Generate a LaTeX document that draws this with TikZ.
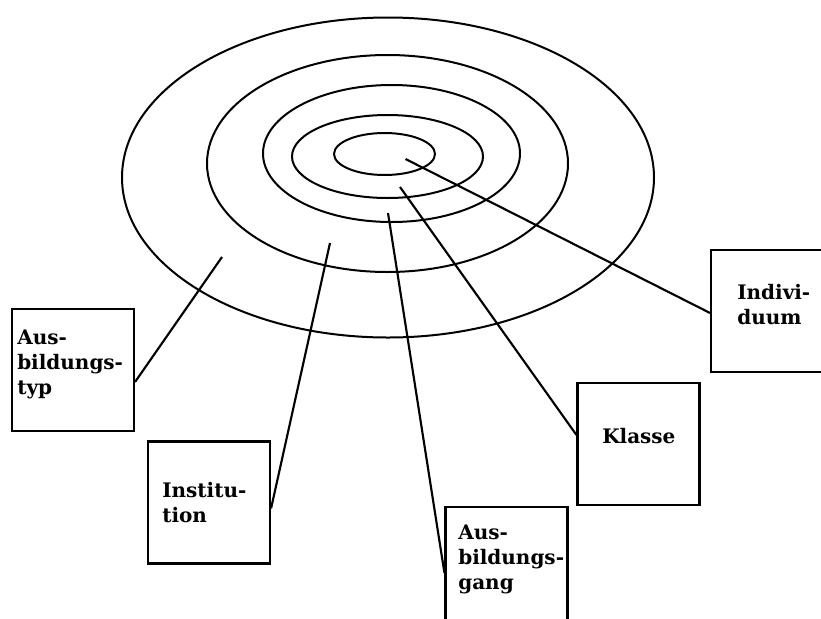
\documentclass[tikz,border=0pt]{standalone}
\usepackage{fontspec}
\setmainfont{DejaVu Serif}
\usetikzlibrary{calc}
\tikzset{
    kasten/.style={draw, line width=1.6pt, minimum width=91.5pt, minimum height=91.5pt, inner sep=0pt},
    beschrift/.style={anchor=north west, inner sep=0pt, align=left, font=\bfseries\fontsize{15}{18.5}\selectfont},
    ring/.style={line width=1.5pt},
    strahl/.style={line width=1.6pt}
}
\begin{document}
\begin{tikzpicture}[x=0.75pt, y=-0.75pt]
    \useasboundingbox (0,0) rectangle (821,618);
    \clip (0,0) rectangle (821,618);

    % Ringe (von aussen nach innen)
    \draw[ring] (388,177.5) ellipse [x radius=266, y radius=160];
    \draw[ring] (387.5,163.5) ellipse [x radius=180.5, y radius=108.5];
    \draw[ring] (391.5,153.5) ellipse [x radius=128.5, y radius=68.5];
    \draw[ring] (387.5,156.5) ellipse [x radius=95.5, y radius=41.5];
    \draw[ring] (384.5,154) ellipse [x radius=50.5, y radius=21];

    % Kaesten
    \node[kasten] (typ) at (73,370) {};
    \node[kasten] (inst) at (209,502.5) {};
    \node[kasten] (gang) at (506.5,568) {};
    \node[kasten] (klasse) at (638.5,444) {};
    \node[kasten] (indiv) at (772,311) {};

    % Beschriftungen
    \node[beschrift] (typtext) at (17,330) {Aus-\\bildungs-\\typ};
    \node[beschrift] (insttext) at (162,482) {Institu-\\tion};
    \node[beschrift] (gangtext) at (458,525) {Aus-\\bildungs-\\gang};
    \node[beschrift] (klassetext) at (602,428) {Klasse};
    \node[beschrift] (indivtext) at (737,284) {Indivi-\\duum};

    % Verbindungen
    \coordinate (typinnen) at (222,257);
    \coordinate (instinnen) at (330,243);
    \coordinate (ganginnen) at (388,213);
    \coordinate (klasseinnen) at (400,187);
    \coordinate (indivinnen) at (405.5,159);
    \draw[strahl] (typinnen) -- ($(typ.north east)+(0,74)$);
    \draw[strahl] (instinnen) -- ($(inst.north east)+(0,68)$);
    \draw[strahl] (ganginnen) -- ($(gang.north west)+(0,67)$);
    \draw[strahl] (klasseinnen) -- ($(klasse.north west)+(0,53)$);
    \draw[strahl] (indivinnen) -- ($(indiv.north west)+(0,64)$);
\end{tikzpicture}
\end{document}
